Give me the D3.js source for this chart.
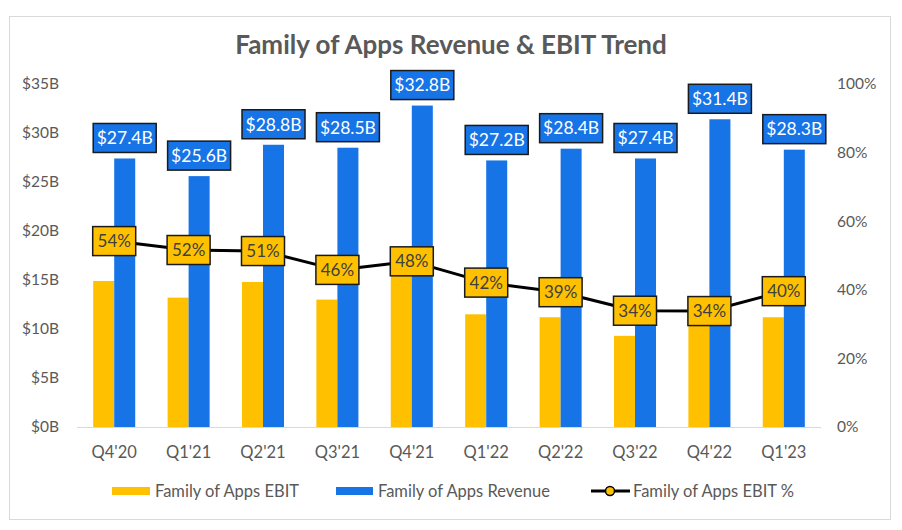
<!DOCTYPE html>
<html>
<head>
<meta charset="utf-8">
<script src="https://cdn.jsdelivr.net/npm/d3@7/dist/d3.min.js"></script>
<style>
  html, body { margin: 0; padding: 0; background: #ffffff; }
  svg { display: block; font-family: Lato, "Open Sans", sans-serif; }
</style>
</head>
<body>
<svg id="chart" width="902" height="530"></svg>
<script>
const categories = ["Q4'20","Q1'21","Q2'21","Q3'21","Q4'21","Q1'22","Q2'22","Q3'22","Q4'22","Q1'23"];
const revenue = [27.4, 25.6, 28.8, 28.5, 32.8, 27.2, 28.4, 27.4, 31.4, 28.3];
const ebit = [14.9, 13.2, 14.8, 13.0, 15.9, 11.5, 11.2, 9.3, 10.7, 11.2];
const ebitPct = [54.2, 51.6, 51.3, 45.8, 48.3, 42.1, 39.3, 33.9, 33.8, 39.6];
const leftTicks = [0, 5, 10, 15, 20, 25, 30, 35];
const rightTicks = [0, 20, 40, 60, 80, 100];
const seriesNames = ["Family of Apps EBIT", "Family of Apps Revenue", "Family of Apps EBIT %"];
const title = "Family of Apps Revenue & EBIT Trend";

const YELLOW = "#FFC000", BLUE = "#1774E6", TEXT = "#595959";

const svg = d3.select("#chart");
const L = 77, R = 821, T = 84, B = 427;

svg.append("rect").attr("x", 9.5).attr("y", 16.5).attr("width", 881).attr("height", 503)
  .attr("fill", "#fff").attr("stroke", "#d9d9d9").attr("stroke-width", 1);

svg.append("text").attr("x", 451).attr("y", 54).attr("text-anchor", "middle")
  .attr("font-size", 26).attr("font-weight", 700).attr("fill", TEXT).text(title);

const x = d3.scaleBand().domain(categories).range([L, R]).paddingInner(0.435).paddingOuter(0.2175);
const xs = d3.scaleBand().domain(["ebit", "rev"]).range([0, x.bandwidth()]);
const yL = d3.scaleLinear().domain([0, 35]).range([B, T]);
const yR = d3.scaleLinear().domain([0, 100]).range([B, T]);

// left axis
const axL = svg.append("g").attr("transform", `translate(${59},0)`)
  .call(d3.axisLeft(yL).tickValues(leftTicks).tickFormat(d => "$" + d + "B").tickSize(0).tickPadding(0));
axL.select(".domain").remove();
axL.selectAll("text").attr("font-size", 15.5).attr("fill", TEXT).attr("font-family", "Lato");

// right axis
const axR = svg.append("g").attr("transform", `translate(${837},0)`)
  .call(d3.axisRight(yR).tickValues(rightTicks).tickFormat(d => d + "%").tickSize(0).tickPadding(0));
axR.select(".domain").remove();
axR.selectAll("text").attr("font-size", 15.5).attr("fill", TEXT).attr("font-family", "Lato");

// x axis
const axX = svg.append("g").attr("transform", `translate(0,${B})`)
  .call(d3.axisBottom(x).tickSize(0).tickPadding(19));
axX.select(".domain").attr("stroke", "#d9d9d9").attr("d", `M${L},0.5H${R}`);
axX.selectAll("text").attr("font-size", 16.5).attr("fill", TEXT).attr("font-family", "Lato");

// bars
const g = svg.append("g");
categories.forEach((c, i) => {
  g.append("rect").attr("x", x(c) + xs("ebit")).attr("y", yL(ebit[i]))
    .attr("width", xs.bandwidth()).attr("height", B - yL(ebit[i])).attr("fill", YELLOW);
  g.append("rect").attr("x", x(c) + xs("rev")).attr("y", yL(revenue[i]))
    .attr("width", xs.bandwidth()).attr("height", B - yL(revenue[i])).attr("fill", BLUE);
});

// line
const cx = c => x(c) + x.bandwidth() / 2;
const line = d3.line().x((d, i) => cx(categories[i])).y(d => yR(d));
svg.append("path").datum(ebitPct).attr("d", line).attr("fill", "none")
  .attr("stroke", "#000").attr("stroke-width", 3).attr("stroke-linejoin", "round");
svg.selectAll(".mk").data(ebitPct).enter().append("circle")
  .attr("cx", (d, i) => cx(categories[i])).attr("cy", d => yR(d)).attr("r", 4.5)
  .attr("fill", YELLOW).attr("stroke", "#000").attr("stroke-width", 1.5);

// pct labels
const pl = svg.selectAll(".pl").data(ebitPct).enter().append("g")
  .attr("transform", (d, i) => `translate(${cx(categories[i])},${yR(d)})`);
pl.append("rect").attr("x", -21.5).attr("y", -14.5).attr("width", 43).attr("height", 29)
  .attr("fill", YELLOW).attr("stroke", "#1a1a1a").attr("stroke-width", 1.5);
pl.append("text").attr("text-anchor", "middle").attr("dy", "0.36em")
  .attr("font-size", 17).attr("fill", "#404040").text(d => Math.round(d) + "%");

// revenue labels
const rl = svg.selectAll(".rl").data(revenue).enter().append("g")
  .attr("transform", (d, i) => `translate(${x(categories[i]) + xs("rev") + xs.bandwidth() / 2},${yL(d) - 6 - 14.5})`);
rl.append("rect").attr("x", -31.5).attr("y", -14.5).attr("width", 63).attr("height", 29)
  .attr("fill", BLUE).attr("stroke", "#1a1a1a").attr("stroke-width", 1.5);
rl.append("text").attr("text-anchor", "middle").attr("dy", "0.36em")
  .attr("font-size", 17.5).attr("fill", "#fff").text(d => "$" + d.toFixed(1) + "B");

// legend
const lg = svg.append("g").attr("font-size", 16.5).attr("fill", TEXT);
const ly = 491;
lg.append("rect").attr("x", 112).attr("y", ly - 4).attr("width", 38).attr("height", 8).attr("fill", YELLOW);
lg.append("text").attr("x", 155).attr("y", ly).attr("dy", "0.35em").text(seriesNames[0]);
lg.append("rect").attr("x", 336).attr("y", ly - 4).attr("width", 37).attr("height", 8).attr("fill", BLUE);
lg.append("text").attr("x", 378).attr("y", ly).attr("dy", "0.35em").text(seriesNames[1]);
lg.append("line").attr("x1", 591).attr("x2", 630).attr("y1", ly).attr("y2", ly).attr("stroke", "#000").attr("stroke-width", 3);
lg.append("circle").attr("cx", 610).attr("cy", ly).attr("r", 4.5).attr("fill", YELLOW).attr("stroke", "#000").attr("stroke-width", 1.5);
lg.append("text").attr("x", 633).attr("y", ly).attr("dy", "0.35em").text(seriesNames[2]);
</script>
</body>
</html>
